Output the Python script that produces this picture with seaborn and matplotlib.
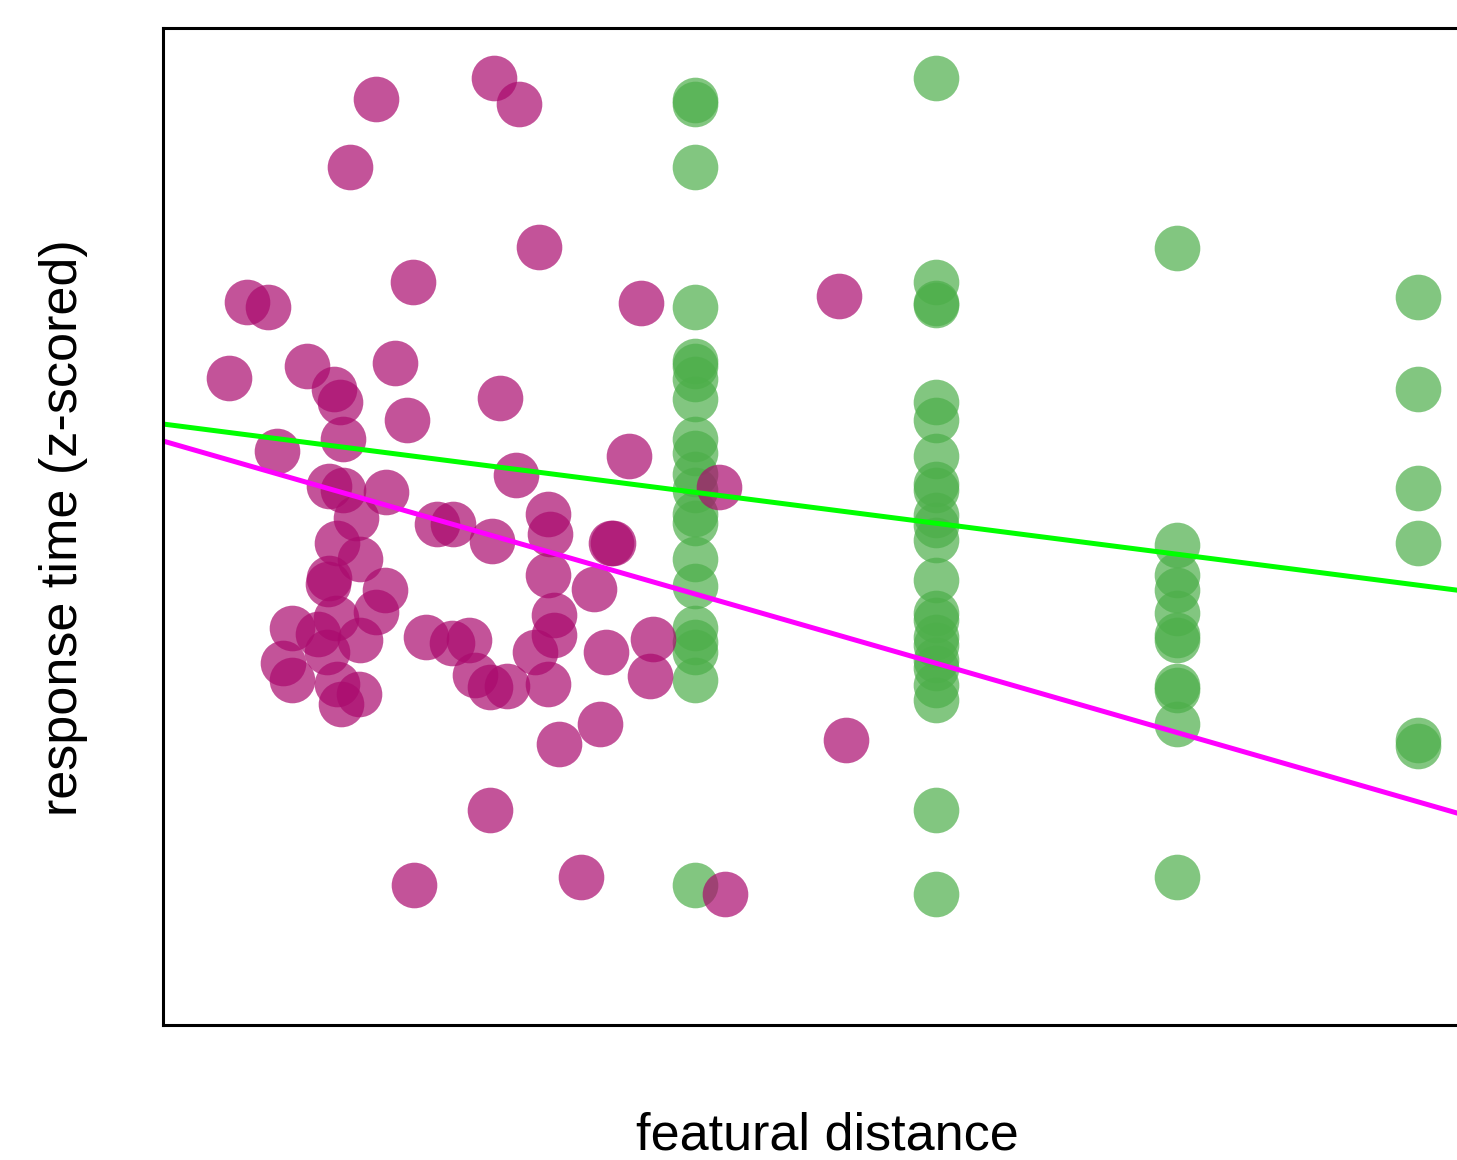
import pandas as pd
import seaborn as sns
import matplotlib.pyplot as plt

sns.set_theme(style="white")
plt.rcParams['font.family'] = ['Liberation Sans', 'DejaVu Sans']

# purple group: continuous featural distance
purple_x = [1.065, 1.655, 1.78, 0.935, 1.88, 1.25, 0.42, 0.525, 2.39, 3.38,
            0.33, 0.72, 1.16, 0.855, 0.885, 1.685, 1.22, 0.90, 0.57, 2.33,
            1.765, 0.83, 0.90, 1.115, 2.78, 0.965, 1.37, 1.45, 1.925, 1.935,
            1.645, 2.24, 2.25, 0.87, 0.985, 0.83, 0.825, 1.925, 2.155, 1.11,
            1.065, 1.955, 0.865, 0.645, 0.775, 0.985, 1.315, 1.445, 1.53, 1.86,
            1.955, 2.45, 2.215, 0.82, 0.60, 0.645, 0.87, 1.56, 1.635, 1.72,
            1.925, 2.435, 0.98, 0.89, 2.185, 1.98, 3.415, 1.635, 1.255, 2.09,
            2.81]
purple_y = [2.13, 2.235, 2.105, 1.79, 1.39, 1.215, 1.115, 1.09, 1.11, 1.145,
            0.735, 0.795, 0.81, 0.68, 0.615, 0.635, 0.525, 0.43, 0.37, 0.345,
            0.25, 0.195, 0.175, 0.165, 0.19, 0.035, 0.005, 0.005, 0.055, -0.045,
            -0.08, -0.09, -0.09, -0.09, -0.17, -0.265, -0.295, -0.25, -0.32, -0.325,
            -0.435, -0.45, -0.465, -0.515, -0.545, -0.575, -0.56, -0.59, -0.575, -0.635,
            -0.55, -0.57, -0.635, -0.635, -0.69, -0.775, -0.795, -0.75, -0.81, -0.805,
            -0.795, -0.755, -0.845, -0.895, -0.995, -1.095, -1.075, -1.425, -1.80, -1.76,
            -1.845]

# green group: discrete featural distance levels
green_levels = [2.66, 3.865, 5.07, 6.275]
green_y1 = [2.125, 2.105, 1.79, 1.09, 0.82, 0.795, 0.73, 0.63, 0.43, 0.36, 0.255,
            0.175, 0.055, 0.01, -0.17, -0.305, -0.515, -0.585, -0.635, -0.775, -1.80]
green_y2 = [2.235, 1.215, 1.11, 1.10, 0.615, 0.525, 0.345, 0.205, 0.175, 0.05, 0.0,
            -0.075, -0.275, -0.44, -0.475, -0.56, -0.60, -0.675, -0.715, -0.80, -0.875,
            -1.425, -1.845]
green_y3 = [1.385, -0.10, -0.25, -0.325, -0.44, -0.55, -0.575, -0.805, -0.825, -0.995, -1.76]
green_y4 = [1.14, 0.68, 0.185, -0.09, -1.075, -1.105]

# fitted lines (intercept, slope)
green_fit = [0.505, -0.1284]
purple_fit = [0.42, -0.2875]
x_range = [0.0, 6.64]

green_y = [green_y1, green_y2, green_y3, green_y4]
green_df = pd.DataFrame({
    "x": [lv for lv, ys in zip(green_levels, green_y) for _ in ys],
    "y": [v for ys in green_y for v in ys],
})
purple_df = pd.DataFrame({"x": purple_x, "y": purple_y})

fig = plt.figure(figsize=(14.57, 11.6), dpi=100)
ax = fig.add_axes([0.11187, 0.11638, 0.91146, 0.85948])

sns.scatterplot(data=green_df, x="x", y="y", color="#4daf4a", alpha=0.7,
                s=1080, linewidth=0, ax=ax)
sns.scatterplot(data=purple_df, x="x", y="y", color="#aa0a6e", alpha=0.7,
                s=1080, linewidth=0, ax=ax)

for fit, col in [(green_fit, "#00ff00"), (purple_fit, "#ff00ff")]:
    ly = [fit[0] + fit[1] * xv for xv in x_range]
    sns.lineplot(x=x_range, y=ly, color=col, linewidth=3.6, ax=ax)

ax.set_xlim(0, 6.64)
ax.set_ylim(-2.5, 2.485)
ax.set_xticks([])
ax.set_yticks([])
ax.set_xlabel("")
ax.set_ylabel("")
for sp in ax.spines.values():
    sp.set_color("black")
    sp.set_linewidth(2.2)

fig.text(827 / 1457, 1 - 1150 / 1160, "featural distance", fontsize=37.5,
         color="black", ha="center", va="baseline")
fig.text(77 / 1457, 1 - 527.5 / 1160, "response time (z-scored)", fontsize=37.5,
         color="black", ha="center", va="baseline", rotation=90,
         rotation_mode="anchor")

fig.savefig("out.png", dpi=100)
